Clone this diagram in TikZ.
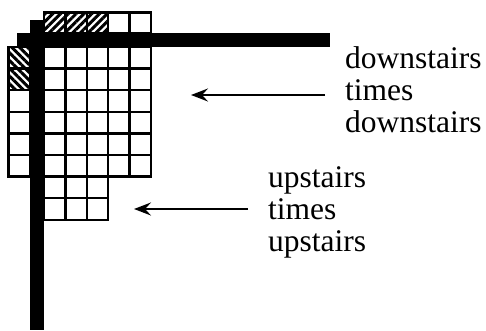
\documentclass[tikz,border=0pt]{standalone}
\usepackage{fontspec}
\setmainfont{Liberation Serif}
\usetikzlibrary{arrows.meta,patterns.meta}

\tikzset{
  cell/.style={draw, line width=2.4pt},
  hatchup/.style={pattern={Lines[angle=45,distance=5.5pt,line width=3pt]}},
  hatchdown/.style={pattern={Lines[angle=-45,distance=5.5pt,line width=3pt]}},
  stairtext/.style={anchor=north west, align=left, inner sep=0pt,
    font=\fontsize{31.5}{32}\selectfont},
}

\begin{document}
\begin{tikzpicture}[x=1pt, y=-1pt, >={Stealth[length=17pt,width=13pt,inset=6pt]}]
  \useasboundingbox (0,0) rectangle (486,331);

  % Top row of cells
  \foreach \k in {1,...,5}
    \draw[cell] ({44+21.4*(\k-1)},12.5) rectangle ++(21.4,21);
  \foreach \k in {1,2,3}
    \draw[cell, hatchup] ({44+21.4*(\k-1)},12.5) rectangle ++(21.4,21);

  % Left column of cells
  \foreach \r in {1,...,6}
    \draw[cell] (8.5,{47+21.6*(\r-1)}) rectangle ++(21.5,21.6);
  \foreach \r in {1,2}
    \draw[cell, hatchdown] (8.5,{47+21.6*(\r-1)}) rectangle ++(21.5,21.6);

  % Main block
  \foreach \r in {1,...,6}
    \foreach \k in {1,...,5}
      \draw[cell] ({44+21.4*(\k-1)},{47+21.6*(\r-1)}) rectangle ++(21.4,21.6);
  \foreach \r in {7,8}
    \foreach \k in {1,2,3}
      \draw[cell] ({44+21.4*(\k-1)},{47+21.6*(\r-1)}) rectangle ++(21.4,21.6);

  % Thick bars
  \fill (30,20) rectangle (44,330);
  \fill (17,33.5) rectangle (330,47);

  % Texts
  \node[stairtext] (down) at (345,46.5) {downstairs\\times\\downstairs};
  \node[stairtext] (up) at (268,166.5) {upstairs\\times\\upstairs};

  % Arrow ends
  \coordinate (downtail) at (325,95);
  \coordinate (downtip) at (191,95);
  \coordinate (uptail) at (248,209);
  \coordinate (uptip) at (134,209);

  % Draw arrows
  \draw[->, line width=2.2pt] (downtail) -- (downtip);
  \draw[->, line width=2.2pt] (uptail) -- (uptip);
\end{tikzpicture}
\end{document}
